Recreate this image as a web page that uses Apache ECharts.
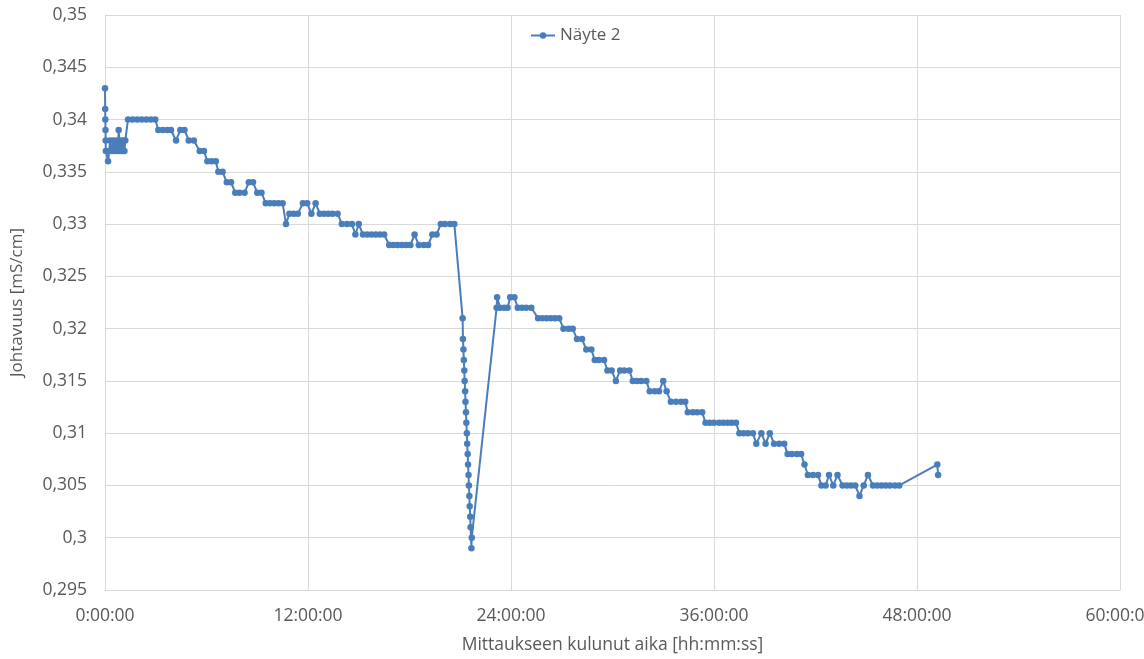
<!DOCTYPE html>
<html><head><meta charset="utf-8">
<script src="https://cdn.jsdelivr.net/npm/echarts@6/dist/echarts.min.js"></script>
<style>html,body{margin:0;padding:0;background:#fff}#c{width:1144px;height:659px}</style>
</head><body><div id="c"></div>
<script>
// Time in hours since start of measurement
const hours = [
 0,0.01,0.02,0.03,0.04,0.05,0.18,0.25,0.3,0.4,0.5,0.58,0.68,0.75,0.81,0.88,0.95,1.02,1.1,1.15,1.2,
 1.36,1.63,1.9,2.17,2.44,2.71,2.97,
 3.15,3.42,3.69,3.9,4.2,4.45,4.7,4.95,5.25,5.6,5.85,6.05,6.3,6.55,6.7,6.95,7.2,7.45,
 7.7,7.95,8.25,8.5,8.75,9.0,9.25,9.5,9.75,10.0,10.25,10.5,10.7,10.9,11.15,11.4,11.7,11.95,
 12.2,12.45,12.7,12.95,13.2,13.45,13.75,14.0,14.3,14.6,14.8,15.0,
 15.25,15.5,15.75,16.0,16.25,16.5,16.8,17.05,17.3,17.55,17.8,18.05,18.3,18.55,18.85,19.1,
 19.35,19.6,19.85,20.1,20.4,20.65,
 21.14,21.16,21.19,21.21,21.24,21.26,21.29,21.31,21.34,21.36,21.39,21.41,21.44,21.46,21.49,21.51,21.54,21.56,21.59,21.61,21.66,21.68,
 23.15,23.18,23.35,23.6,23.8,23.95,24.2,24.4,24.65,24.9,25.2,
 25.6,25.85,26.1,26.35,26.6,26.85,27.1,27.4,27.65,27.9,28.2,28.45,28.75,28.95,29.2,29.5,
 29.7,29.95,30.2,30.45,30.7,31.0,31.2,31.45,31.7,32.0,32.2,32.5,32.75,33.0,33.2,
 33.45,33.75,34.05,34.3,34.45,34.75,35.0,35.3,
 35.5,35.75,36.0,36.3,36.55,36.8,37.05,37.3,37.5,37.75,38.0,38.3,38.5,38.8,39.05,39.3,
 39.55,39.85,40.15,40.35,40.6,40.9,41.15,41.35,41.55,41.85,42.15,42.35,42.6,42.8,43.05,43.3,
 43.6,43.85,44.1,44.35,44.6,44.85,45.1,45.4,45.65,45.9,46.15,46.4,46.7,46.95,
 49.2,49.25
];
// Conductivity [mS/cm]
const conductivity = [
 0.343,0.341,0.340,0.339,0.338,0.337,0.336,0.337,0.338,0.337,0.338,0.337,0.338,0.337,0.339,0.337,0.338,0.337,0.338,0.337,0.338,
 0.340,0.340,0.340,0.340,0.340,0.340,0.340,
 0.339,0.339,0.339,0.339,0.338,0.339,0.339,0.338,0.338,0.337,0.337,0.336,0.336,0.336,0.335,0.335,0.334,0.334,
 0.333,0.333,0.333,0.334,0.334,0.333,0.333,0.332,0.332,0.332,0.332,0.332,0.330,0.331,0.331,0.331,0.332,0.332,
 0.331,0.332,0.331,0.331,0.331,0.331,0.331,0.330,0.330,0.330,0.329,0.330,
 0.329,0.329,0.329,0.329,0.329,0.329,0.328,0.328,0.328,0.328,0.328,0.328,0.329,0.328,0.328,0.328,
 0.329,0.329,0.330,0.330,0.330,0.330,
 0.321,0.319,0.318,0.317,0.316,0.315,0.314,0.313,0.312,0.311,0.310,0.309,0.308,0.307,0.306,0.305,0.304,0.303,0.302,0.301,0.299,0.300,
 0.322,0.323,0.322,0.322,0.322,0.323,0.323,0.322,0.322,0.322,0.322,
 0.321,0.321,0.321,0.321,0.321,0.321,0.320,0.320,0.320,0.319,0.319,0.318,0.318,0.317,0.317,0.317,
 0.316,0.316,0.315,0.316,0.316,0.316,0.315,0.315,0.315,0.315,0.314,0.314,0.314,0.315,0.314,
 0.313,0.313,0.313,0.313,0.312,0.312,0.312,0.312,
 0.311,0.311,0.311,0.311,0.311,0.311,0.311,0.311,0.310,0.310,0.310,0.310,0.309,0.310,0.309,0.310,
 0.309,0.309,0.309,0.308,0.308,0.308,0.308,0.307,0.306,0.306,0.306,0.305,0.305,0.306,0.305,0.306,
 0.305,0.305,0.305,0.305,0.304,0.305,0.306,0.305,0.305,0.305,0.305,0.305,0.305,0.305,
 0.307,0.306
];
const seriesName = 'Näyte 2';
const xTitle = 'Mittaukseen kulunut aika [hh:mm:ss]';
const yTitle = 'Johtavuus [mS/cm]';

const data = hours.map((h, i) => [h, conductivity[i]]);
const font = 'Open Sans, Liberation Sans, sans-serif';
const grey = '#595959';
const chart = echarts.init(document.getElementById('c'), null, {renderer: 'canvas'});
chart.setOption({
  animation: false,
  backgroundColor: '#fff',
  grid: {left: 105, right: 24, top: 15, bottom: 69, containLabel: false, outerBoundsMode: 'none'},
  legend: {
    data: [seriesName], left: 525, top: 22, itemWidth: 24, itemHeight: 8, itemGap: 4,
    textStyle: {color: grey, fontSize: 17, fontFamily: font}
  },
  xAxis: {
    type: 'value', min: 0, max: 60, interval: 12,
    name: xTitle, nameLocation: 'middle', nameGap: 46,
    nameTextStyle: {color: grey, fontSize: 17.5, fontFamily: font},
    axisLine: {show: true, lineStyle: {color: '#d9d9d9'}},
    axisTick: {show: false},
    axisLabel: {color: grey, fontSize: 17.5, fontFamily: font, margin: 17,
      formatter: v => v + ':00:00'},
    splitLine: {show: true, lineStyle: {color: '#d9d9d9'}}
  },
  yAxis: {
    type: 'value', min: 0.295, max: 0.35, interval: 0.005,
    name: yTitle, nameLocation: 'middle', nameGap: 79, nameRotate: 90,
    nameTextStyle: {color: grey, fontSize: 17, fontFamily: font},
    axisLine: {show: true, lineStyle: {color: '#d9d9d9'}},
    axisTick: {show: false},
    axisLabel: {color: grey, fontSize: 17.5, fontFamily: font, margin: 18,
      formatter: v => String(Number(v.toFixed(3))).replace('.', ',')},
    splitLine: {show: true, lineStyle: {color: '#d9d9d9'}}
  },
  series: [{
    name: seriesName, type: 'line', data: data,
    symbol: 'circle', symbolSize: 6.5, showAllSymbol: true,
    lineStyle: {color: '#4a7ebb', width: 2},
    itemStyle: {color: '#4a7ebb'}
  }]
});
</script></body></html>
